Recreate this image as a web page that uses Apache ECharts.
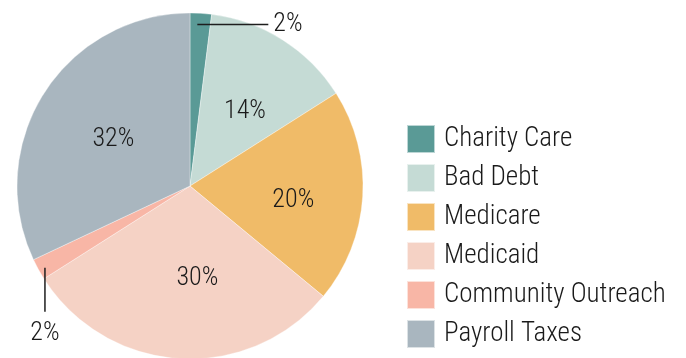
<!DOCTYPE html>
<html>
<head>
<meta charset="utf-8">
<script src="https://cdn.jsdelivr.net/npm/echarts@6/dist/echarts.min.js"></script>
<style>
  html, body { margin: 0; padding: 0; background: #ffffff; }
  #chart { width: 686px; height: 358px; }
</style>
</head>
<body>
<div id="chart"></div>
<script>
// Share of community benefit spending by category
const categories = ['Charity Care', 'Bad Debt', 'Medicare', 'Medicaid', 'Community Outreach', 'Payroll Taxes'];
const shares = [2, 14, 20, 30, 2, 32];
const colors = ['#5a9a96', '#c5dbd5', '#f0bb68', '#f5d2c5', '#f8b6a6', '#a9b6bf'];
// Slices too thin for an inside label get an outside callout
const calloutSide = ['right', null, null, null, 'down', null];
// Small nudges for the inside percentage labels
const labelNudge = [[0, 0], [7, 1], [14, 9], [13, 3], [0, 0], [-1, 1]];

const FONT = '"Roboto Condensed", "Liberation Sans Narrow", "DejaVu Sans Condensed", Roboto, sans-serif';
const CENTER = [190, 186];
const RADIUS = 173;

const chart = echarts.init(document.getElementById('chart'), null, { renderer: 'canvas' });

const baseData = categories.map((name, i) => ({
  name,
  value: shares[i],
  itemStyle: { color: colors[i] },
  label: calloutSide[i] ? { show: false } : { show: true, offset: labelNudge[i] }
}));

// Transparent copy of the pie carrying the callout labels above every slice
const calloutData = categories.map((name, i) => ({
  name,
  value: shares[i],
  label: { show: !!calloutSide[i] },
  labelLine: { show: !!calloutSide[i] }
}));

const labelText = {
  formatter: '{c}%',
  fontFamily: FONT,
  fontSize: 26,
  fontWeight: 300,
  color: '#1a1a1a'
};

chart.setOption({
  animation: false,
  legend: {
    orient: 'vertical',
    left: 406,
    top: 124,
    padding: 0,
    itemWidth: 28,
    itemHeight: 28,
    itemGap: 9,
    icon: 'rect',
    textStyle: { fontFamily: FONT, fontSize: 27, fontWeight: 300, lineHeight: 28, color: '#1a1a1a', padding: [0, 0, 0, 4] },
    data: categories
  },
  series: [{
    type: 'pie',
    name: 'share',
    z: 2,
    center: CENTER,
    radius: [0, RADIUS],
    startAngle: 90,
    clockwise: true,
    avoidLabelOverlap: false,
    itemStyle: { borderColor: 'rgba(255,255,255,0.6)', borderWidth: 0.6 },
    data: baseData,
    label: Object.assign({ position: 'inside' }, labelText),
    labelLine: { show: false }
  }, {
    type: 'pie',
    name: 'callouts',
    z: 5,
    silent: true,
    legendHoverLink: false,
    center: CENTER,
    radius: [0, RADIUS],
    startAngle: 90,
    clockwise: true,
    avoidLabelOverlap: false,
    itemStyle: { color: 'rgba(0,0,0,0)' },
    data: calloutData,
    label: Object.assign({ position: 'outside' }, labelText),
    labelLine: { length: 10, length2: 30, lineStyle: { color: '#1e1e1e', width: 1.5 } },
    labelLayout: function (params) {
      const side = calloutSide[params.dataIndex];
      if (!side || !params.labelLinePoints) return {};
      const p0 = params.labelLinePoints[0];
      if (side === 'right') {
        // start the leader a little inside the rim, run it right to the label
        const sx = CENTER[0] + (p0[0] - CENTER[0]) * 0.95 - 3;
        const sy = CENTER[1] + (p0[1] - CENTER[1]) * 0.95 + 2.5;
        const ex = sx + 71;
        return { x: ex + 5, y: sy, align: 'left', verticalAlign: 'middle',
                 labelLinePoints: [[sx, sy], [ex, sy], [ex, sy]] };
      }
      // drop the leader straight down to the label
      const sx = CENTER[0] + (p0[0] - CENTER[0]) * 0.97 + 2;
      const sy = CENTER[1] + (p0[1] - CENTER[1]) * 0.97 + 1;
      const ey = sy + 44;
      return { x: sx, y: ey + 22, align: 'center', verticalAlign: 'middle',
               labelLinePoints: [[sx, sy], [sx, ey], [sx, ey]] };
    }
  }]
});
</script>
</body>
</html>
